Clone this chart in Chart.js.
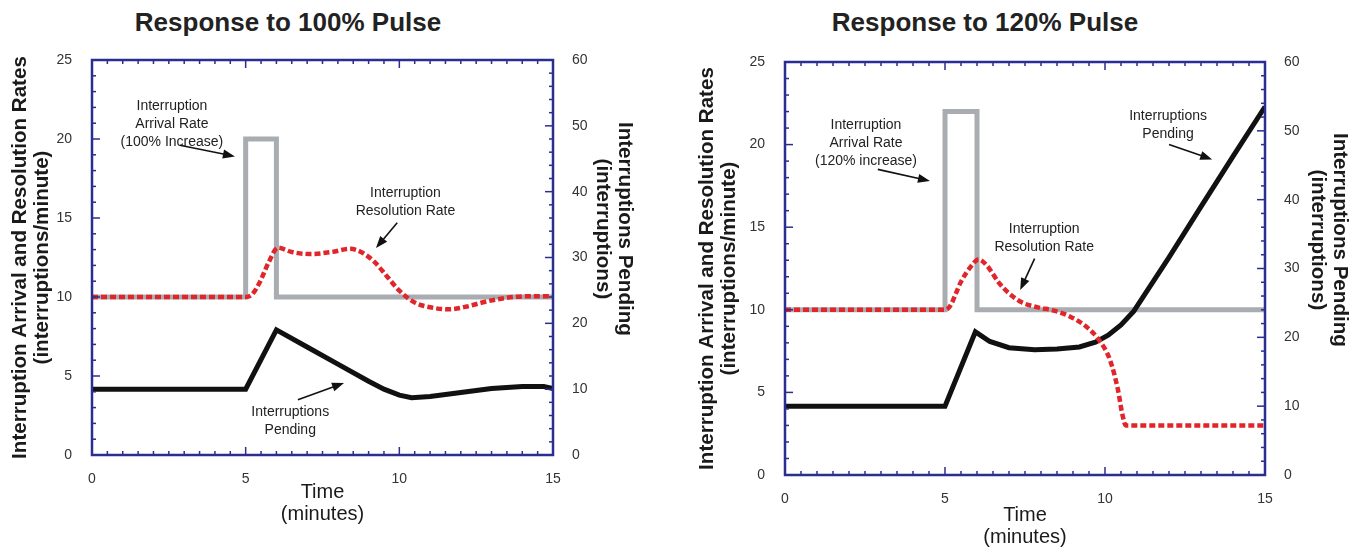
<!DOCTYPE html>
<html>
<head>
<meta charset="utf-8">
<script src="https://cdn.jsdelivr.net/npm/chart.js@4.4.1/dist/chart.umd.min.js"></script>
<style>
  html, body { margin: 0; padding: 0; background: #fff; }
  .wrap { position: relative; width: 1368px; height: 555px; overflow: hidden; }
  canvas { position: absolute; top: 0; }
  .ttl { position: absolute; top: 7px; width: 420px; text-align: center;
         font: bold 26px 'Liberation Sans', Arial, sans-serif; line-height: 30px; color: #222; }
</style>
</head>
<body>
<div class="wrap">
  <div class="ttl" style="left:78px">Response to 100% Pulse</div>
  <div class="ttl" style="left:775px">Response to 120% Pulse</div>
  <canvas id="pulse100" width="684" height="555" style="left:0"></canvas>
  <canvas id="pulse120" width="684" height="555" style="left:684px"></canvas>
</div>
<script>
// arrival rate pulse (interruptions/minute)
const arrivalTime = [0, 5, 5, 6, 6, 15];
const arrival100 = [10, 10, 20, 20, 10, 10];
const arrival120 = [10, 10, 22, 22, 10, 10];

// resolution rate, 100% pulse
const resTime100 = [0, 5, 5.2, 5.45, 5.75, 6.05, 6.5, 7.1, 7.8, 8.4, 8.8, 9.2, 9.6, 10.0, 10.5, 11.0, 11.6, 12.2, 12.8, 13.5, 14.2, 15];
const resolution100 = [10, 10, 10.15, 10.9, 12.2, 13.12, 12.85, 12.72, 12.85, 13.05, 12.8, 12.2, 11.3, 10.4, 9.65, 9.35, 9.22, 9.4, 9.7, 9.95, 10.05, 10.05];

// interruptions pending, 100% pulse (right axis)
const pendTime100 = [0, 5, 6, 7, 8, 9, 9.5, 10, 10.4, 11, 12, 13, 14, 14.7, 15];
const pending100 = [10, 10, 19.0, 16.4, 13.8, 11.2, 10.0, 9.1, 8.7, 8.9, 9.5, 10.1, 10.4, 10.4, 10.1];

// resolution rate, 120% pulse
const resTime120 = [0, 5, 5.15, 5.5, 5.8, 6.05, 6.3, 6.7, 7.0, 7.4, 7.9, 8.4, 8.9, 9.4, 9.8, 10.15, 10.4, 10.55, 10.65, 15];
const resolution120 = [10, 10, 10.2, 11.7, 12.6, 13.05, 12.7, 11.6, 11.0, 10.45, 10.15, 9.95, 9.6, 9.0, 8.2, 7.0, 5.2, 3.6, 3.0, 3.0];

// interruptions pending, 120% pulse (right axis)
const pendTime120 = [0, 5, 5.95, 6.4, 7.0, 7.8, 8.5, 9.2, 9.7, 10.1, 10.5, 10.9, 12, 13, 14, 15];
const pending120 = [10, 10, 20.8, 19.4, 18.5, 18.2, 18.3, 18.6, 19.3, 20.3, 21.8, 23.8, 31.6, 39.0, 46.3, 53.5];

// callout texts, placed in data units (x minutes, left axis)
const notes100 = [
  { lines: ['Interruption', 'Arrival Rate', '(100% Increase)'], x: 2.6, y: 22.1, from: [2.86, 19.6], to: [4.65, 18.9] },
  { lines: ['Interruption', 'Resolution Rate'], x: 10.2, y: 16.6, from: [9.93, 14.7], to: [9.24, 13.1] },
  { lines: ['Interruptions', 'Pending'], x: 6.45, y: 2.7, from: [6.7, 3.5], to: [8.2, 4.56] }
];
const notes120 = [
  { lines: ['Interruption', 'Arrival Rate', '(120% increase)'], x: 2.53, y: 21.2, from: [2.9, 18.5], to: [4.53, 17.8] },
  { lines: ['Interruptions', 'Pending'], x: 11.97, y: 21.7, from: [12.0, 20.0], to: [13.35, 19.1] },
  { lines: ['Interruption', 'Resolution Rate'], x: 8.1, y: 14.9, from: [7.8, 13.1], to: [7.35, 11.2] }
];

const NAVY = '#2b2e8f';
const FONT = "'Liberation Sans', Arial, sans-serif";

function pts(ts, vs) {
  return ts.map((t, i) => ({ x: t, y: vs[i] }));
}

// frame with inward ticks on all four sides
const frameTicks = {
  id: 'frameTicks',
  afterDatasetsDraw(chart) {
    const { ctx, chartArea: a, scales: { x, y, y2 } } = chart;
    const tick = (x1, y1, x2, y2_) => { ctx.beginPath(); ctx.moveTo(x1, y1); ctx.lineTo(x2, y2_); ctx.stroke(); };
    ctx.save();
    ctx.strokeStyle = NAVY;
    ctx.lineWidth = 1.5;
    for (let v = 0; v <= 15; v += 0.5) {
      const p = x.getPixelForValue(v);
      const len = v % 5 === 0 ? 8 : 4;
      tick(p, a.bottom, p, a.bottom - len);
      tick(p, a.top, p, a.top + len);
    }
    for (let v = 0; v <= 25; v += 1) {
      const p = y.getPixelForValue(v);
      tick(a.left, p, a.left + (v % 5 === 0 ? 8 : 4), p);
    }
    for (let v = 0; v <= 60; v += 2) {
      const p = y2.getPixelForValue(v);
      tick(a.right, p, a.right - (v % 10 === 0 ? 8 : 4), p);
    }
    ctx.lineWidth = 2.5;
    ctx.strokeRect(a.left, a.top, a.right - a.left, a.bottom - a.top);
    ctx.restore();
  }
};

// callout texts with arrows
const notes = {
  id: 'notes',
  afterDraw(chart, args, opts) {
    const { ctx, scales: { x, y } } = chart;
    ctx.save();
    ctx.font = '14px ' + FONT;
    ctx.fillStyle = '#222';
    ctx.strokeStyle = '#111';
    ctx.textAlign = 'center';
    ctx.textBaseline = 'middle';
    for (const n of opts.items) {
      const cx = x.getPixelForValue(n.x);
      const cy = y.getPixelForValue(n.y);
      n.lines.forEach((s, i) => ctx.fillText(s, cx, cy + i * 18));
      const x1 = x.getPixelForValue(n.from[0]), y1 = y.getPixelForValue(n.from[1]);
      const x2 = x.getPixelForValue(n.to[0]), y2 = y.getPixelForValue(n.to[1]);
      const ang = Math.atan2(y2 - y1, x2 - x1);
      ctx.lineWidth = 1.6;
      ctx.beginPath();
      ctx.moveTo(x1, y1);
      ctx.lineTo(x2 - 8 * Math.cos(ang), y2 - 8 * Math.sin(ang));
      ctx.stroke();
      ctx.beginPath();
      ctx.moveTo(x2, y2);
      ctx.lineTo(x2 - 12 * Math.cos(ang) + 4.5 * Math.sin(ang), y2 - 12 * Math.sin(ang) - 4.5 * Math.cos(ang));
      ctx.lineTo(x2 - 12 * Math.cos(ang) - 4.5 * Math.sin(ang), y2 - 12 * Math.sin(ang) + 4.5 * Math.cos(ang));
      ctx.closePath();
      ctx.fillStyle = '#111';
      ctx.fill();
      ctx.fillStyle = '#222';
    }
    ctx.restore();
  }
};

function makeChart(id, arrival, resT, res, pendT, pend, items, lay) {
  const tickFont = { family: FONT, size: 14 };
  const titleFont = { family: FONT, size: 20.6, weight: 'bold', lineHeight: 1.07 };
  return new Chart(document.getElementById(id), {
    type: 'line',
    data: {
      datasets: [
        {
          label: 'Interruption Resolution Rate',
          data: pts(resT, res),
          yAxisID: 'y',
          borderColor: '#e0252b',
          borderWidth: 4.5,
          borderDash: [6, 3],
          cubicInterpolationMode: 'monotone',
          pointRadius: 0
        },
        {
          label: 'Interruptions Pending',
          data: pts(pendT, pend),
          yAxisID: 'y2',
          borderColor: '#111',
          borderWidth: 5,
          tension: 0,
          pointRadius: 0
        },
        {
          label: 'Interruption Arrival Rate',
          data: pts(arrivalTime, arrival),
          yAxisID: 'y',
          borderColor: '#a9acb0',
          borderWidth: 5,
          borderJoinStyle: 'miter',
          tension: 0,
          pointRadius: 0
        }
      ]
    },
    options: {
      responsive: false,
      animation: false,
      layout: { padding: { top: lay.top, left: 0, right: 0, bottom: 0 } },
      plugins: {
        legend: { display: false },
        tooltip: { enabled: false },
        notes: { items: items }
      },
      scales: {
        x: {
          type: 'linear', min: 0, max: 15,
          grid: { display: false }, border: { display: false },
          ticks: { stepSize: 5, font: tickFont, color: '#333', padding: 8 },
          title: { display: true, text: ['Time', '(minutes)'], color: '#1a1a1a',
                   font: { family: FONT, size: 20, lineHeight: 1.1 }, padding: { bottom: lay.xPad } },
          afterFit: s => { s.height = lay.bottom; }
        },
        y: {
          position: 'left', min: 0, max: 25,
          grid: { display: false }, border: { display: false },
          ticks: { stepSize: 5, font: tickFont, color: '#333', padding: 12 },
          title: { display: true, text: ['Interruption Arrival and Resolution Rates', '(interruptions/minute)'],
                   color: '#1a1a1a', font: titleFont, padding: { top: lay.yPad } },
          afterFit: s => { s.width = lay.left; }
        },
        y2: {
          position: 'right', min: 0, max: 60,
          grid: { display: false }, border: { display: false },
          ticks: { stepSize: 10, font: tickFont, color: '#333', padding: 11 },
          title: { display: true, text: ['Interruptions Pending          ', '(interruptions)          '],
                   color: '#1a1a1a', font: titleFont, padding: { top: lay.y2Pad } },
          afterFit: s => { s.width = lay.right; }
        }
      }
    },
    plugins: [frameTicks, notes]
  });
}

makeChart('pulse100', arrival100, resTime100, resolution100, pendTime100, pending100, notes100,
  { top: 60, bottom: 100, left: 92, right: 131, xPad: 30, yPad: 9, y2Pad: 48 });
makeChart('pulse120', arrival120, resTime120, resolution120, pendTime120, pending120, notes120,
  { top: 62, bottom: 80, left: 101, right: 103, xPad: 7, yPad: 12, y2Pad: 17 });
</script>
</body>
</html>
